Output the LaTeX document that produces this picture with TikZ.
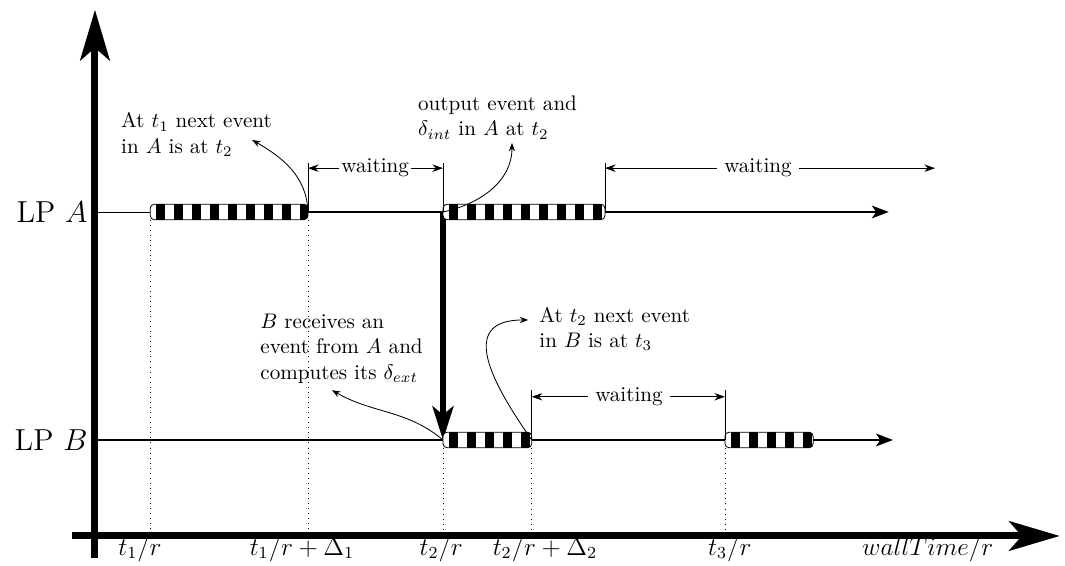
\documentclass[tikz,border=0pt]{standalone}
\usepackage{tikz}
\usetikzlibrary{arrows.meta}

\newcommand{\stripebar}[3]{%
  \begin{scope}
    \clip[rounded corners=2pt] (#1,#3-0.13) rectangle (#2,#3+0.13);
    \fill[white] (#1,#3-0.13) rectangle (#2,#3+0.13);
    \draw[line width=0.26cm, dash pattern=on 0.15cm off 0.15cm, dash phase=0.2cm] (#1,#3) -- (#2,#3);
  \end{scope}
  \draw[rounded corners=2pt] (#1,#3-0.13) rectangle (#2,#3+0.13);
}

\begin{document}
\begin{tikzpicture}
  [axisLine/.style={line width=3.3pt, -{Stealth[length=24pt, width=14pt, inset=6pt]}},
    timeline/.style={line width=1.1pt},
    endArrow/.style={-{Stealth[length=8pt, width=6pt, inset=2pt]}},
    msgArrow/.style={line width=2.4pt, -{Stealth[length=16pt, width=10pt, inset=4pt]}},
    noteArrow/.style={thin, -{Stealth[length=4pt, width=3pt]}},
    waitArrow/.style={thin, -{Stealth[length=5pt, width=3.5pt]}},
    guide/.style={dotted, thin},
    Note/.style={align=left, inner sep=0pt, anchor=west},
    Tick/.style={anchor=base, font=\large},
    LPLabel/.style={anchor=east, font=\Large}]
    \useasboundingbox (-1.583,-0.5) rectangle (16.167,8.933);
    \coordinate (O) at (0,0);
    \coordinate (a1s) at (0.92,5.4);
    \coordinate (a1e) at (3.55,5.4);
    \coordinate (a2s) at (5.8,5.4);
    \coordinate (a2e) at (8.5,5.4);
    \coordinate (aEnd) at (13.23,5.4);
    \coordinate (b1s) at (5.8,1.6);
    \coordinate (b1e) at (7.28,1.6);
    \coordinate (b2s) at (10.5,1.6);
    \coordinate (b2e) at (11.97,1.6);
    \coordinate (bEnd) at (13.3,1.6);

    \node [LPLabel] (lpA) at (0,5.4) {LP $A$};
    \node [LPLabel] (lpB) at (0,1.6) {LP $B$};

    \foreach \x in {0.92,3.55} \draw[guide] (\x,5.27) -- (\x,0.08);
    \foreach \x in {5.8,7.28,10.5} \draw[guide] (\x,1.47) -- (\x,0.08);

    \draw (O |- a1s) -- (a1s);
    \draw[timeline] (a1e) -- (a2s);
    \draw[timeline, endArrow] (a2e) -- (aEnd);
    \draw[timeline] (O |- b1s) -- (b1s);
    \draw[timeline] (b1e) -- (b2s);
    \draw[timeline, endArrow] (b2e) -- (bEnd);

    \draw[msgArrow] (a2s) -- (b1s);

    \stripebar{0.92}{3.55}{5.4}
    \stripebar{5.8}{8.5}{5.4}
    \stripebar{5.8}{7.28}{1.6}
    \stripebar{10.5}{11.97}{1.6}

    \draw[axisLine] (0,-0.37) -- (0,8.77);
    \draw[axisLine] (-0.38,0) -- (16.08,0);

    \draw (a1e) -- ++(0,0.82);
    \draw (a2s) -- ++(0,0.82);
    \draw (a2e) -- ++(0,0.82);
    \draw (b1e) -- ++(0,0.83);
    \draw (b2s) -- ++(0,0.83);
    \node [inner sep=1pt] (w1) at (4.67,6.13) {waiting};
    \node (w2) at (11.05,6.13) {waiting};
    \node (w3) at (8.9,2.32) {waiting};
    \coordinate (wEnd) at (14,6.13);
    \draw[waitArrow] (w1) -- (a1e |- w1);
    \draw[waitArrow] (w1) -- (a2s |- w1);
    \draw[waitArrow] (w2) -- (a2e |- w2);
    \draw[waitArrow] (w2) -- (wEnd);
    \draw[waitArrow] (w3) -- (b1e |- w3);
    \draw[waitArrow] (w3) -- (b2s |- w3);

    \node [Note] (n1) at (0.43,6.69) {At $t_1$ next event\\in $A$ is at $t_2$};
    \node [Note] (n2) at (5.38,6.975) {output event and\\$\delta_{int}$ in $A$ at $t_2$};
    \node [Note] (n3) at (2.75,3.12) {$B$ receives an\\event from $A$ and\\computes its $\delta_{ext}$};
    \node [Note] (n4) at (7.4,3.45) {At $t_2$ next event\\in $B$ is at $t_3$};
    \coordinate (n1tip) at (2.62,6.6);
    \coordinate (n2tip) at (6.95,6.55);
    \coordinate (n3tip) at (3.95,2.43);
    \coordinate (n4tip) at (7.22,3.6);
    \draw[noteArrow] (a1e) to[out=92, in=-30] (n1tip);
    \draw[noteArrow] (a2s) to[out=12, in=-90] (n2tip);
    \draw[noteArrow] (b1s) to[out=140, in=-30] (n3tip);
    \draw[noteArrow] (b1e) to[out=125, in=180, looseness=1.5] (n4tip);

    \node [Tick] (t1) at (0.75,-0.32) {$t_1/r$};
    \node [Tick] (t1d) at (3.45,-0.32) {$t_1/r+\Delta_1$};
    \node [Tick] (t2) at (5.77,-0.32) {$t_2/r$};
    \node [Tick] (t2d) at (7.5,-0.32) {$t_2/r+\Delta_2$};
    \node [Tick] (t3) at (10.58,-0.32) {$t_3/r$};
    \node [Tick] (wall) at (13.88,-0.32) {$wallTime/r$};
\end{tikzpicture}
\end{document}
